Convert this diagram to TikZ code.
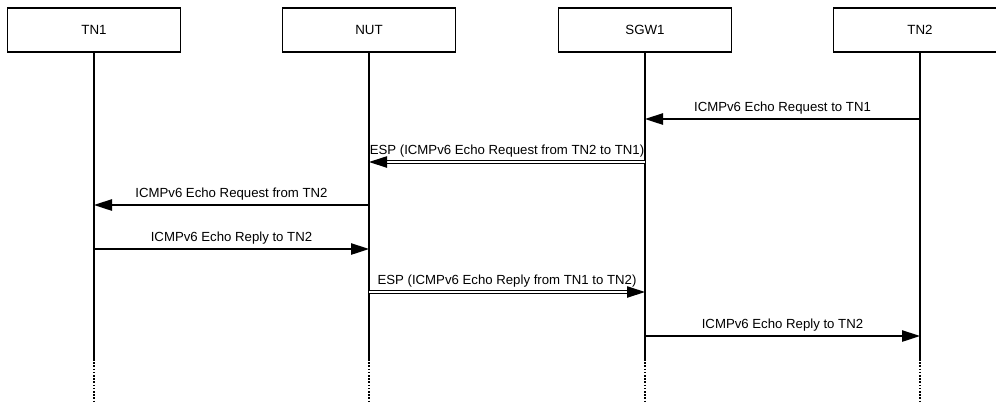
\documentclass[tikz,border=0pt]{standalone}
\usepackage{fontspec}
\setmainfont{Liberation Sans}
\usepackage{tikz}
\usetikzlibrary{arrows.meta,positioning,calc}

\begin{document}
\begin{tikzpicture}[
    x=0.75pt, y=-0.75pt,
    actor/.style={rectangle, draw, line width=1.1pt, minimum width=129.5pt, minimum height=33pt, font=\fontsize{10}{12}\selectfont},
    life/.style={line width=1.5pt},
    lifeend/.style={line width=1.5pt, dash pattern=on 1.2pt off 1.2pt},
    msg/.style={line width=1.2pt, -{Triangle[length=13.5pt, width=8.5pt]}},
    esp/.style={line width=0.9pt, double, double distance=0.9pt, -{Triangle[length=13.5pt, width=8.5pt]}},
    lbl/.style={font=\fontsize{9.9}{12}\selectfont, inner sep=0pt, text height=7.4pt, text depth=2pt},
]
    \useasboundingbox (0,0) rectangle (996,401);

    % participants
    \node[actor] (tn1) at (94,30) {TN1};
    \node[actor] (nut) at (369,30) {NUT};
    \node[actor] (sgw1) at (645,30) {SGW1};
    \node[actor] (tn2) at (920,30) {TN2};

    % points on the lifelines
    \foreach \n/\x in {tn1/94, nut/369, sgw1/645, tn2/920} {
        \foreach \r/\y in {1/119, 2/162, 3/205, 4/249, 5/292, 6/336}
            \coordinate (\n-\r) at (\x,\y);
        \coordinate (\n-end) at (\x,359);
        \coordinate (\n-bot) at (\x,401);
    }

    % lifelines
    \draw[life] (tn1.south) -- (tn1-end);
    \draw[life] (nut.south) -- (nut-end);
    \draw[life] (sgw1.south) -- (sgw1-end);
    \draw[life] (tn2.south) -- (tn2-end);
    \draw[lifeend] (tn1-end) -- (tn1-bot);
    \draw[lifeend] (nut-end) -- (nut-bot);
    \draw[lifeend] (sgw1-end) -- (sgw1-bot);
    \draw[lifeend] (tn2-end) -- (tn2-bot);

    % messages
    \draw[msg] (tn2-1) -- node[lbl, midway, above=3.2pt] (m1) {ICMPv6 Echo Request to TN1} (sgw1-1);
    \draw[esp] (sgw1-2) -- node[lbl, midway, above=3.2pt] (m2) {ESP (ICMPv6 Echo Request from TN2 to TN1)} (nut-2);
    \draw[msg] (nut-3) -- node[lbl, midway, above=3.2pt] (m3) {ICMPv6 Echo Request from TN2} (tn1-3);
    \draw[msg] (tn1-4) -- node[lbl, midway, above=3.2pt] (m4) {ICMPv6 Echo Reply to TN2} (nut-4);
    \draw[esp] (nut-5) -- node[lbl, midway, above=3.2pt] (m5) {ESP (ICMPv6 Echo Reply from TN1 to TN2)} (sgw1-5);
    \draw[msg] (sgw1-6) -- node[lbl, midway, above=3.2pt] (m6) {ICMPv6 Echo Reply to TN2} (tn2-6);
\end{tikzpicture}
\end{document}
